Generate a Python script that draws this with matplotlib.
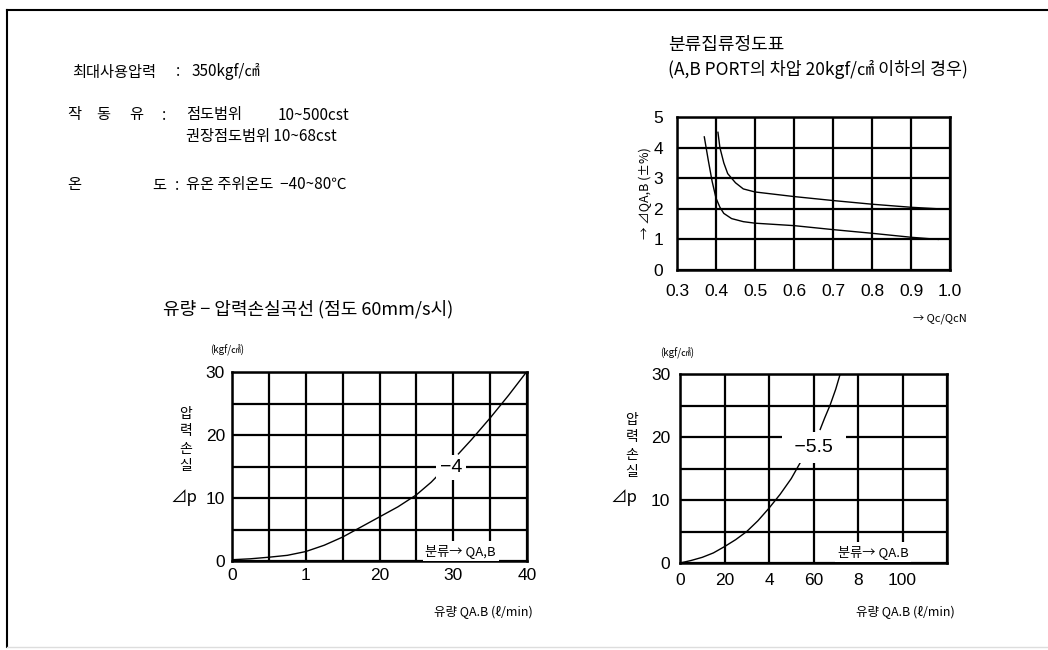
import numpy as np
import matplotlib.pyplot as plt
from matplotlib.lines import Line2D

plt.rcParams['font.family'] = ['Noto Sans CJK KR', 'DejaVu Sans']

# 분류집류정도표 (top right)
ratio_ticks = [0.3, 0.4, 0.5, 0.6, 0.7, 0.8, 0.9, 1.0]
ratio_labels = ['0.3', '0.4', '0.5', '0.6', '0.7', '0.8', '0.9', '1.0']
err_ticks = [0, 1, 2, 3, 4, 5]
upper_x = [0.405, 0.41, 0.42, 0.43, 0.45, 0.47, 0.5, 0.6, 0.7, 0.8, 0.9, 0.97]
upper_y = [4.5, 4.0, 3.5, 3.15, 2.85, 2.65, 2.55, 2.4, 2.27, 2.15, 2.05, 2.0]
lower_x = [0.37, 0.38, 0.39, 0.40, 0.41, 0.42, 0.44, 0.47, 0.5, 0.6, 0.7, 0.8, 0.9, 0.97]
lower_y = [4.35, 3.6, 2.9, 2.35, 2.05, 1.85, 1.68, 1.58, 1.53, 1.45, 1.32, 1.2, 1.07, 1.0]

# 유량-압력손실 (bottom left)
q1_ticks = [0, 10, 20, 30, 40]
q1_labels = ['0', '1', '20', '30', '40']
q1_a_x = [0, 2.5, 5, 7.5, 10, 12.5, 15, 17.5, 20, 22.5, 25, 27, 28]
q1_a_y = [0.2, 0.35, 0.6, 0.9, 1.5, 2.5, 3.8, 5.4, 7.0, 8.6, 10.5, 12.5, 13.7]
q1_b_x = [30.7, 32.5, 35, 37.5, 39.8]
q1_b_y = [17.0, 19.3, 22.7, 26.3, 29.8]

# bottom right
q2_ticks = [0, 20, 40, 60, 80, 100]
q2_labels = ['0', '20', '4', '60', '8', '100']
q2_a_x = [0, 5, 10, 15, 20, 25, 30, 35, 40, 45, 50, 54, 57.7]
q2_a_y = [0, 0.4, 0.9, 1.6, 2.6, 3.7, 5.0, 6.7, 8.7, 10.9, 13.4, 15.9, 17.7]
q2_b_x = [63, 65, 67.5, 70, 72]
q2_b_y = [21.2, 23.0, 25.1, 27.6, 30]
dp_ticks = [0, 10, 20, 30]

fig = plt.figure(figsize=(10.48, 6.5), dpi=100)

def px(x, y):
    return x / 1048, 1 - y / 650

# frame of the scanned page
fig.add_artist(Line2D([7 / 1048, 1], [1 - 10 / 650, 1 - 10 / 650], color='black', lw=1.5))
fig.add_artist(Line2D([7 / 1048, 7 / 1048], [1 - 10 / 650, 1 - 647 / 650], color='black', lw=1.5))
fig.add_artist(Line2D([7 / 1048, 1], [1 - 647 / 650, 1 - 647 / 650], color='#dddddd', lw=1))

def grid_box(ax, pad):
    ax.grid(True, color='black', lw=1.6)
    for s in ax.spines.values():
        s.set_linewidth(1.8)
    ax.tick_params(length=0, labelsize=12.5, pad=pad)
    for lab in ax.get_xticklabels() + ax.get_yticklabels():
        lab.set_fontfamily('Liberation Sans')

# spec text
fs = 11
fig.text(*px(72, 72), '최대사용압력', fontsize=fs, va='center')
fig.text(*px(176, 72), ':', fontsize=fs, va='center')
fig.text(*px(192, 72), '350kgf/㎠', fontsize=fs, va='center')
fig.text(*px(67, 115), '작', fontsize=fs, va='center')
fig.text(*px(96, 115), '동', fontsize=fs, va='center')
fig.text(*px(129, 115), '유', fontsize=fs, va='center')
fig.text(*px(162, 115), ':', fontsize=fs, va='center')
fig.text(*px(186, 115), '점도범위', fontsize=fs, va='center')
fig.text(*px(278, 115), '10~500cst', fontsize=fs, va='center')
fig.text(*px(186, 137), '권장점도범위 10~68cst', fontsize=fs, va='center')
fig.text(*px(67, 185), '온', fontsize=fs, va='center')
fig.text(*px(152, 185), '도', fontsize=fs, va='center')
fig.text(*px(175, 185), ':', fontsize=fs, va='center')
fig.text(*px(186, 185), '유온 주위온도  −40~80℃', fontsize=fs, va='center')

# top right chart
ax1 = fig.add_axes([677 / 1048, 1 - 270 / 650, 273 / 1048, 153 / 650])
ax1.plot(upper_x, upper_y, color='black', lw=1)
ax1.plot(lower_x, lower_y, color='black', lw=1)
ax1.set_xlim(0.3, 1.0)
ax1.set_ylim(0, 5)
ax1.set_xticks(ratio_ticks)
ax1.set_xticklabels(ratio_labels)
ax1.set_yticks(err_ticks)
grid_box(ax1, 10)
ax1.set_ylabel('→ ⊿QA,B (±%)', fontsize=9, labelpad=1)
fig.text(*px(668, 45), '분류집류정도표', fontsize=13, va='center')
fig.text(*px(668, 69), '(A,B PORT의 차압 20kgf/㎠ 이하의 경우)', fontsize=12.5, va='center')
fig.text(*px(967, 319), '→ Qc/QcN', fontsize=8, va='center', ha='right')

# bottom left chart
ax2 = fig.add_axes([232 / 1048, 1 - 561 / 650, 295 / 1048, 189 / 650])
ax2.plot(q1_a_x, q1_a_y, color='black', lw=1)
ax2.plot(q1_b_x, q1_b_y, color='black', lw=1)
ax2.set_xlim(0, 40)
ax2.set_ylim(0, 30)
ax2.set_xticks(q1_ticks)
ax2.set_xticklabels(q1_labels)
ax2.set_xticks(np.arange(0, 41, 5), minor=True)
ax2.set_yticks(np.arange(0, 31, 5), minor=True)
ax2.set_yticks(dp_ticks)
grid_box(ax2, 5)
ax2.grid(True, which='minor', color='black', lw=1.6)
ax2.tick_params(which='minor', length=0)
ax2.text(29.7, 14.9, '−4', fontsize=14, ha='center', va='center',
         family='Liberation Sans',
         bbox=dict(facecolor='white', edgecolor='none', pad=3))
ax2.text(31, 1.6, '분류→ QA,B', fontsize=9.5, ha='center', va='center',
         bbox=dict(facecolor='white', edgecolor='none', pad=2))
fig.text(*px(163, 309), '유량 − 압력손실곡선 (점도 60mm/s시)', fontsize=13, va='center')
fig.text(*px(210, 350), '(kgf/㎠)', fontsize=7, va='center')
fig.text(*px(186, 440), '압\n력\n손\n실', fontsize=10, va='center', ha='center', linespacing=1.3)
fig.text(*px(197, 497), '⊿p', fontsize=12, va='center', ha='right')
fig.text(*px(483, 612), '유량 QA.B (ℓ/min)', fontsize=9, va='center', ha='center')

# bottom right chart
ax3 = fig.add_axes([680 / 1048, 1 - 563 / 650, 267 / 1048, 189 / 650])
ax3.plot(q2_a_x, q2_a_y, color='black', lw=1)
ax3.plot(q2_b_x, q2_b_y, color='black', lw=1)
ax3.set_xlim(0, 120)
ax3.set_ylim(0, 30)
ax3.set_xticks(q2_ticks)
ax3.set_xticklabels(q2_labels)
ax3.set_xticks(np.arange(0, 121, 20), minor=True)
ax3.set_yticks(np.arange(0, 31, 5), minor=True)
ax3.set_yticks(dp_ticks)
grid_box(ax3, 7)
ax3.grid(True, which='minor', color='black', lw=1.6)
ax3.tick_params(which='minor', length=0)
ax3.text(60.2, 18.4, ' −5.5 ', fontsize=14, ha='center', va='center',
         family='Liberation Sans',
         bbox=dict(facecolor='white', edgecolor='none', pad=5))
ax3.text(86.7, 1.75, '분류→ QA.B', fontsize=9.5, ha='center', va='center',
         bbox=dict(facecolor='white', edgecolor='none', pad=2))
fig.text(*px(660, 353), '(kgf/㎠)', fontsize=7, va='center')
fig.text(*px(632, 446), '압\n력\n손\n실', fontsize=10, va='center', ha='center', linespacing=1.3)
fig.text(*px(637, 497), '⊿p', fontsize=12, va='center', ha='right')
fig.text(*px(905, 612), '유량 QA.B (ℓ/min)', fontsize=9, va='center', ha='center')

fig.savefig('out.png', dpi=100)
